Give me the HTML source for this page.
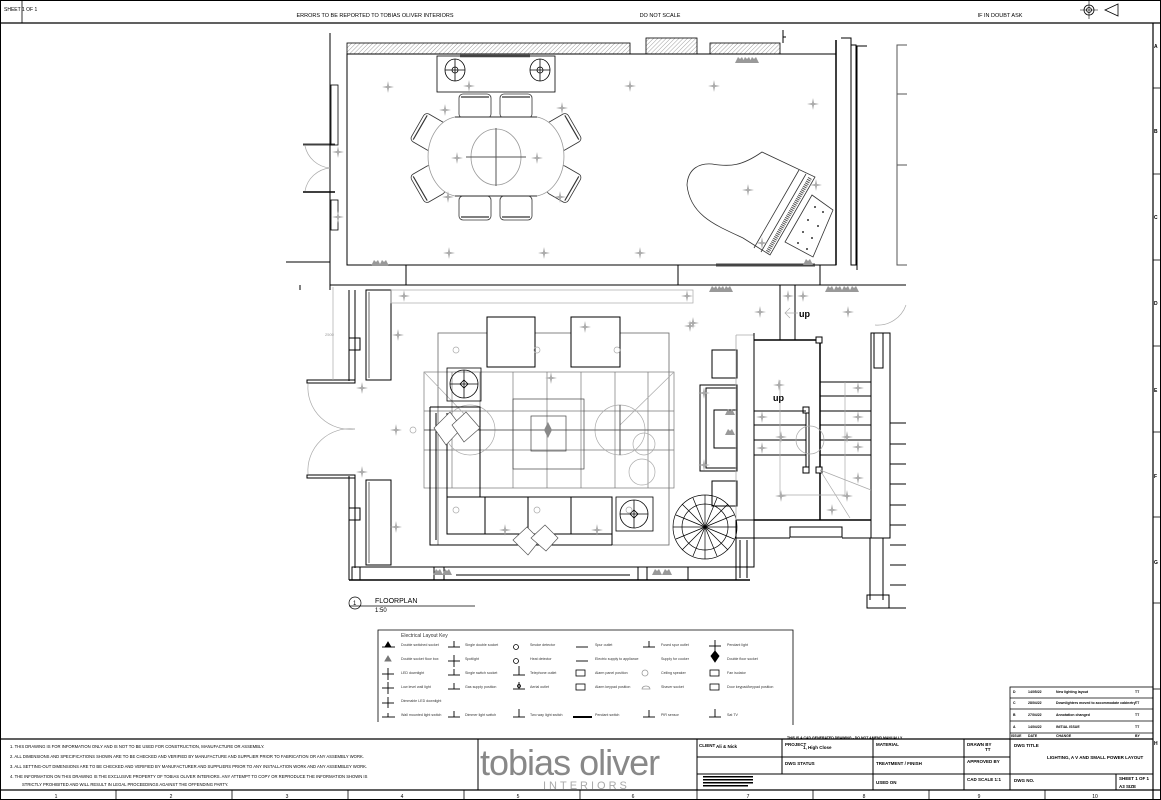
<!DOCTYPE html>
<html><head><meta charset="utf-8"><style>
html,body{margin:0;padding:0;background:#fff;}
svg{display:block;font-family:"Liberation Sans",sans-serif;}
</style></head><body>
<svg width="1161" height="800" viewBox="0 0 1161 800" xmlns="http://www.w3.org/2000/svg">
<defs>
<pattern id="h" width="3" height="3" patternUnits="userSpaceOnUse" patternTransform="rotate(45)"><line x1="0" y1="0" x2="0" y2="3" stroke="#777" stroke-width="0.7"/></pattern>
<g id="st"><path d="M0,-6 L1,-1 L6,0 L1,1 L0,6 L-1,1 L-6,0 L-1,-1Z" fill="#aaa"/></g>
<g id="sk"><path d="M-5,3 L-2,-3 L0,-1 L2,-3 L5,3Z" fill="#999"/></g>
<g id="ch"><rect x="-16" y="-12" width="32" height="24" rx="4" fill="#fff" stroke="#333" stroke-width="0.8"/><line x1="-14" y1="-9" x2="14" y2="-9" stroke="#333" stroke-width="1.2"/></g>
</defs>
<rect x="0.5" y="0.5" width="1160" height="799" fill="#fff" stroke="#000"/>
<!-- top band -->
<line x1="0" y1="23" x2="1161" y2="23" stroke="#000" stroke-width="1.2"/>
<line x1="22" y1="0" x2="22" y2="23" stroke="#000" stroke-width="0.8"/>
<text x="4" y="11" font-size="5">SHEET 1 OF 1</text>
<text x="375" y="17" font-size="5.5" text-anchor="middle">ERRORS TO BE REPORTED TO TOBIAS OLIVER INTERIORS</text>
<text x="660" y="17" font-size="5.5" text-anchor="middle">DO NOT SCALE</text>
<text x="1000" y="17" font-size="5.5" text-anchor="middle">IF IN DOUBT ASK</text>
<circle cx="1089" cy="10" r="5" fill="none" stroke="#000" stroke-width="0.8"/><circle cx="1089" cy="10" r="2.5" fill="none" stroke="#000" stroke-width="0.8"/>
<line x1="1080" y1="10" x2="1098" y2="10" stroke="#000" stroke-width="0.6"/><line x1="1089" y1="1" x2="1089" y2="19" stroke="#000" stroke-width="0.6"/>
<path d="M1105,10 L1118,4 L1118,16Z M1118,6 L1118,14" fill="none" stroke="#000" stroke-width="0.8"/>
<!-- right border -->
<line x1="1153" y1="23" x2="1153" y2="800" stroke="#000" stroke-width="1.2"/>
<g stroke="#000" stroke-width="0.8"><line x1="1153" y1="88" x2="1161" y2="88"/><line x1="1153" y1="174" x2="1161" y2="174"/><line x1="1153" y1="260" x2="1161" y2="260"/><line x1="1153" y1="346" x2="1161" y2="346"/><line x1="1153" y1="432" x2="1161" y2="432"/><line x1="1153" y1="517" x2="1161" y2="517"/><line x1="1153" y1="603" x2="1161" y2="603"/><line x1="1153" y1="689" x2="1161" y2="689"/></g>
<g font-size="5" font-weight="bold"><text x="1154" y="48">A</text><text x="1154" y="133">B</text><text x="1154" y="219">C</text><text x="1154" y="305">D</text><text x="1154" y="392">E</text><text x="1154" y="478">F</text><text x="1154" y="564">G</text><text x="1154" y="745">H</text></g>

<!-- ===== DINING ROOM ===== -->
<g fill="none" stroke="#000" stroke-width="1">
<line x1="330" y1="33" x2="330" y2="290"/>
<rect x="347" y="54" width="489" height="211"/>
<line x1="286" y1="262" x2="330" y2="262"/>
<line x1="330" y1="285" x2="906" y2="285"/>
<line x1="406" y1="265" x2="406" y2="285"/><line x1="678" y1="265" x2="678" y2="285"/><line x1="820" y1="265" x2="820" y2="285"/>
<line x1="836" y1="40" x2="836" y2="265" stroke-width="1.5"/>
<line x1="783" y1="30" x2="783" y2="43"/><line x1="783" y1="37" x2="786" y2="37"/>
<polyline points="841,38 851,38 851,265"/>
<polyline points="855,45 851,45"/>
<rect x="851" y="45" width="5" height="220"/>
<polyline points="857,270 857,46 867,46"/>
</g>
<g fill="none" stroke="#555" stroke-width="1"><polyline points="907,45 897,45 897,265 907,265"/><line x1="897" y1="94" x2="907" y2="94"/><line x1="897" y1="165" x2="907" y2="165"/></g>
<rect x="347" y="43" width="283" height="11" fill="url(#h)" stroke="#000" stroke-width="0.8"/>
<rect x="646" y="38" width="51" height="16" fill="url(#h)" stroke="#000" stroke-width="0.8"/>
<rect x="710" y="43" width="70" height="11" fill="url(#h)" stroke="#000" stroke-width="0.8"/>
<!-- left windows / door -->
<g fill="none" stroke="#000" stroke-width="0.8">
<rect x="331" y="85" width="7" height="60"/><rect x="331" y="200" width="7" height="30"/>
<line x1="303" y1="145" x2="335" y2="145"/><line x1="303" y1="144" x2="335" y2="144"/>
<line x1="303" y1="192" x2="335" y2="192" stroke-width="1.5"/>
</g>
<g fill="none" stroke="#aaa" stroke-width="0.7"><path d="M305,146 A28,28 0 0 0 330,168"/><path d="M305,191 A28,28 0 0 1 330,168"/></g>
<!-- TV unit -->
<rect x="437" y="56" width="118" height="36" fill="none" stroke="#000" stroke-width="0.8"/>
<line x1="460" y1="56" x2="530" y2="56" stroke="#444" stroke-width="2.5"/>
<g fill="none" stroke="#000" stroke-width="0.8"><ellipse cx="455" cy="70" rx="10" ry="11"/><circle cx="455" cy="70" r="3"/><line x1="445" y1="70" x2="465" y2="70"/><line x1="455" y1="59" x2="455" y2="81"/>
<ellipse cx="540" cy="70" rx="10" ry="11"/><circle cx="540" cy="70" r="3"/><line x1="530" y1="70" x2="550" y2="70"/><line x1="540" y1="59" x2="540" y2="81"/></g>
<!-- chairs -->
<use href="#ch" transform="translate(475,106)"/><use href="#ch" transform="translate(516,106)"/>
<use href="#ch" transform="translate(475,208) rotate(180)"/><use href="#ch" transform="translate(516,208) rotate(180)"/>
<use href="#ch" transform="translate(428,132) rotate(-60)"/><use href="#ch" transform="translate(428,184) rotate(-120)"/>
<use href="#ch" transform="translate(564,132) rotate(60)"/><use href="#ch" transform="translate(564,184) rotate(120)"/>
<path d="M455,117 L537,117 A32,40 0 0 1 537,196 L455,196 A32,40 0 0 1 455,117Z" fill="#fff" stroke="#999" stroke-width="0.8"/>
<line x1="455" y1="117" x2="537" y2="117" stroke="#000" stroke-width="0.8"/><line x1="455" y1="196" x2="537" y2="196" stroke="#000" stroke-width="0.8"/>
<ellipse cx="496" cy="157" rx="25" ry="28" fill="none" stroke="#999" stroke-width="0.8"/>
<line x1="466" y1="157" x2="526" y2="157" stroke="#555"/><line x1="496" y1="128" x2="496" y2="186" stroke="#555"/>
<!-- piano -->
<path d="M762,152 L815,177 L770,255 L743,238 C715,225 690,215 687,185 C688,168 700,163 712,164 C730,167 742,166 762,152Z" fill="#fff" stroke="#333" stroke-width="0.8"/>
<path d="M799,170 L754,248 M806,174 L761,252" stroke="#333" stroke-width="0.8" fill="none"/>
<path d="M810,178 L767,253" stroke="#555" stroke-width="4" stroke-dasharray="1,1" fill="none"/>
<path d="M812,195 L833,210 L813,257 L785,242Z" fill="#fff" stroke="#333" stroke-width="0.8"/>
<g fill="#333"><circle cx="815" cy="207" r="1"/><circle cx="823" cy="212" r="1"/><circle cx="808" cy="220" r="1"/><circle cx="818" cy="226" r="1"/><circle cx="803" cy="232" r="1"/><circle cx="812" cy="238" r="1"/><circle cx="798" cy="243" r="1"/><circle cx="807" cy="249" r="1"/></g>
<line x1="716" y1="265" x2="815" y2="265" stroke="#444" stroke-width="3"/>
<!-- dining stars -->
<g><use href="#st" x="388" y="87"/><use href="#st" x="469" y="86"/><use href="#st" x="630" y="86"/><use href="#st" x="714" y="86"/><use href="#st" x="813" y="104"/><use href="#st" x="457" y="158"/><use href="#st" x="537" y="158"/><use href="#st" x="748" y="190"/><use href="#st" x="338" y="152"/><use href="#st" x="338" y="217"/><use href="#st" x="448" y="197"/><use href="#st" x="560" y="197"/><use href="#st" x="445" y="110"/><use href="#st" x="562" y="108"/><use href="#st" x="449" y="253"/><use href="#st" x="544" y="253"/><use href="#st" x="640" y="253"/><use href="#st" x="762" y="243"/><use href="#st" x="816" y="185"/></g>
<g><use href="#sk" x="376" y="263"/><use href="#sk" x="384" y="263"/><use href="#sk" x="740" y="60"/><use href="#sk" x="747" y="60"/><use href="#sk" x="754" y="60"/><use href="#sk" x="808" y="262"/><use href="#sk" x="714" y="289"/><use href="#sk" x="721" y="289"/><use href="#sk" x="728" y="289"/><use href="#sk" x="830" y="289"/><use href="#sk" x="838" y="289"/><use href="#sk" x="846" y="289"/><use href="#sk" x="854" y="289"/></g>

<!-- ===== LIVING ROOM ===== -->
<g fill="none" stroke="#000" stroke-width="1">
<line x1="300" y1="285" x2="300" y2="290"/>
<line x1="349" y1="290" x2="349" y2="381"/><line x1="355" y1="290" x2="355" y2="381"/>
<line x1="349" y1="476" x2="349" y2="580"/><line x1="355" y1="476" x2="355" y2="568"/>
<rect x="366" y="290" width="25" height="90"/><line x1="369" y1="292" x2="369" y2="378" stroke="#666"/>
<rect x="366" y="480" width="25" height="85"/><line x1="369" y1="482" x2="369" y2="563" stroke="#666"/>
<rect x="349" y="338" width="11" height="12"/><rect x="349" y="508" width="11" height="12"/>
<rect x="307" y="380" width="48" height="3"/><rect x="307" y="475" width="48" height="3"/>
<line x1="349" y1="580" x2="750" y2="580" stroke-width="1.5"/>
<line x1="355" y1="567" x2="736" y2="567"/>
<rect x="352" y="567" width="8" height="13"/>
<rect x="434" y="567" width="10" height="13"/><rect x="638" y="567" width="9" height="13"/><rect x="688" y="567" width="48" height="13"/>
<line x1="456" y1="575" x2="630" y2="575"/>
<rect x="736" y="520" width="18" height="47"/>
<line x1="740" y1="540" x2="740" y2="578"/><line x1="747" y1="540" x2="747" y2="578"/>
</g>
<g fill="none" stroke="#aaa" stroke-width="0.7"><path d="M308,384 A42,42 0 0 0 355,429"/><path d="M308,474 A42,42 0 0 1 355,429"/><line x1="333" y1="287" x2="333" y2="380"/></g>
<text x="325" y="336" font-size="4" fill="#999">2500</text>
<rect x="391" y="290" width="302" height="13" fill="none" stroke="#aaa" stroke-width="0.7"/>
<!-- furniture frame -->
<rect x="438" y="333" width="231" height="212" fill="none" stroke="#666" stroke-width="0.8"/>
<rect x="487" y="317" width="48" height="50" fill="#fff" stroke="#000" stroke-width="1"/>
<rect x="571" y="317" width="49" height="50" fill="#fff" stroke="#000" stroke-width="1"/>
<!-- rug grid -->
<g fill="none" stroke="#777" stroke-width="0.7">
<rect x="424" y="372" width="250" height="116"/>
<line x1="424" y1="411" x2="674" y2="411"/><line x1="424" y1="430" x2="674" y2="430"/><line x1="424" y1="450" x2="674" y2="450"/>
<line x1="452" y1="372" x2="452" y2="488"/><line x1="480" y1="372" x2="480" y2="488"/><line x1="513" y1="372" x2="513" y2="488"/><line x1="547" y1="372" x2="547" y2="488"/><line x1="581" y1="372" x2="581" y2="488"/><line x1="615" y1="372" x2="615" y2="488"/><line x1="648" y1="372" x2="648" y2="488"/>
<rect x="513" y="399" width="71" height="70" stroke="#444"/><rect x="531" y="416" width="35" height="35" stroke="#444"/>
<circle cx="470" cy="430" r="25" stroke="#aaa"/><circle cx="620" cy="430" r="25" stroke="#aaa"/><circle cx="644" cy="444" r="11" stroke="#aaa"/><circle cx="642" cy="472" r="13" stroke="#aaa"/>
<line x1="424" y1="372" x2="470" y2="420" stroke="#aaa"/><line x1="674" y1="372" x2="620" y2="425" stroke="#aaa"/>
</g>
<line x1="424" y1="430" x2="674" y2="430" stroke="#555" stroke-width="0.8"/><line x1="620" y1="405" x2="620" y2="455" stroke="#555"/>
<path d="M548,430 m0,-8 l4,8 l-4,8 l-4,-8z" fill="#888"/>
<!-- side tables -->
<g fill="none" stroke="#000" stroke-width="0.8"><rect x="447" y="368" width="34" height="33"/><circle cx="464" cy="384" r="14"/><line x1="450" y1="384" x2="478" y2="384"/><line x1="464" y1="370" x2="464" y2="398"/><path d="M464,380 l4,4 l-4,4 l-4,-4z"/>
<rect x="616" y="497" width="37" height="34"/><circle cx="634" cy="514" r="14"/><line x1="620" y1="514" x2="648" y2="514"/><line x1="634" y1="500" x2="634" y2="528"/><path d="M634,510 l4,4 l-4,4 l-4,-4z"/></g>
<!-- sofa -->
<g fill="none" stroke="#000" stroke-width="1">
<polyline points="430,407 480,407 480,497"/>
<polyline points="430,407 430,545 571,545"/>
<polyline points="436,413 436,540"/>
<rect x="447" y="497" width="165" height="37"/>
<line x1="485" y1="497" x2="485" y2="534"/><line x1="528" y1="497" x2="528" y2="534"/><line x1="571" y1="497" x2="571" y2="534"/>
<polyline points="447,413 447,534"/>
<line x1="447" y1="545" x2="612" y2="545"/><line x1="612" y1="534" x2="612" y2="545"/>
</g>
<g fill="#fff" stroke="#555" stroke-width="0.7"><path d="M434,428 L450,412 L462,428 L446,445Z"/><path d="M452,425 L466,412 L480,428 L464,442Z"/><path d="M513,540 L527,527 L540,540 L528,555Z"/><path d="M531,538 L545,525 L558,538 L546,551Z"/></g>
<!-- round rug -->
<g fill="none" stroke="#000" stroke-width="0.7"><circle cx="705" cy="527" r="32"/><circle cx="705" cy="527" r="23"/><line x1="673" y1="527" x2="737" y2="527"/><line x1="705" y1="495" x2="705" y2="559"/><line x1="682" y1="504" x2="728" y2="550"/><line x1="728" y1="504" x2="682" y2="550"/><line x1="676" y1="515" x2="734" y2="539"/><line x1="676" y1="539" x2="734" y2="515"/><line x1="693" y1="498" x2="717" y2="556"/><line x1="717" y1="498" x2="693" y2="556"/></g>
<!-- TV cabinet left of stairs -->
<g fill="none" stroke="#000" stroke-width="1">
<rect x="712" y="350" width="25" height="28"/><rect x="712" y="481" width="25" height="25"/>
<rect x="700" y="385" width="37" height="86"/><rect x="706" y="388" width="31" height="80"/>
<rect x="714" y="410" width="23" height="38"/>
</g>
<line x1="736" y1="335" x2="736" y2="520" stroke="#aaa" stroke-width="0.8"/><line x1="736" y1="335" x2="754" y2="335" stroke="#aaa" stroke-width="0.8"/>
<!-- stair core -->
<g fill="none" stroke="#000" stroke-width="1">
<line x1="754" y1="333" x2="754" y2="520"/>
<line x1="780" y1="285" x2="780" y2="340"/><line x1="795" y1="285" x2="795" y2="340"/>
<line x1="754" y1="340" x2="820" y2="340" stroke-width="1.5"/>
<line x1="820" y1="340" x2="820" y2="520" stroke-width="1.5"/>
<rect x="816" y="337" width="6" height="6" fill="#fff"/><rect x="803" y="407" width="6" height="6" fill="#fff"/><rect x="803" y="467" width="6" height="6" fill="#fff"/><rect x="816" y="467" width="6" height="6" fill="#fff"/>
<line x1="806" y1="413" x2="806" y2="467"/><line x1="809" y1="413" x2="809" y2="467"/>
<line x1="754" y1="411" x2="806" y2="411"/><line x1="754" y1="425" x2="806" y2="425"/><line x1="754" y1="440" x2="806" y2="440"/><line x1="754" y1="455" x2="806" y2="455"/>
<line x1="820" y1="382" x2="871" y2="382"/><line x1="820" y1="396" x2="871" y2="396"/><line x1="820" y1="411" x2="871" y2="411"/><line x1="820" y1="425" x2="871" y2="425"/><line x1="820" y1="440" x2="871" y2="440"/><line x1="820" y1="455" x2="871" y2="455"/>
<line x1="754" y1="520" x2="871" y2="520" stroke-width="1.5"/>
<rect x="871" y="333" width="19" height="205"/>
<rect x="874" y="333" width="9" height="35"/>
<line x1="736" y1="538" x2="790" y2="538"/><line x1="842" y1="538" x2="890" y2="538"/>
<rect x="790" y="527" width="52" height="10"/>
<line x1="870" y1="538" x2="870" y2="600"/><line x1="883" y1="538" x2="883" y2="600"/>
<rect x="867" y="595" width="22" height="13"/>
<line x1="890" y1="423" x2="906" y2="423"/><line x1="890" y1="444" x2="906" y2="444"/><line x1="890" y1="464" x2="906" y2="464"/><line x1="890" y1="484" x2="906" y2="484"/><line x1="890" y1="505" x2="906" y2="505"/><line x1="890" y1="525" x2="906" y2="525"/><line x1="890" y1="545" x2="906" y2="545"/><line x1="890" y1="565" x2="906" y2="565"/><line x1="890" y1="585" x2="906" y2="585"/>
<line x1="883" y1="608" x2="906" y2="608"/>
</g>
<g fill="none" stroke="#aaa" stroke-width="0.7"><line x1="780" y1="380" x2="780" y2="495"/><line x1="845" y1="382" x2="845" y2="495"/><line x1="780" y1="495" x2="845" y2="495"/><circle cx="810" cy="440" r="14"/><line x1="820" y1="470" x2="850" y2="518"/><line x1="820" y1="470" x2="871" y2="490"/><path d="M875,325 A30,30 0 0 0 906,305"/><line x1="785" y1="313" x2="798" y2="313"/><path d="M790,308 l-5,5 l5,5"/></g>
<text x="799" y="317" font-size="9" font-weight="bold">up</text>
<text x="773" y="401" font-size="9" font-weight="bold">up</text>
<!-- living stars -->
<g><use href="#st" x="404" y="296"/><use href="#st" x="687" y="296"/><use href="#st" x="398" y="335"/><use href="#st" x="585" y="327"/><use href="#st" x="690" y="326"/><use href="#st" x="551" y="378"/><use href="#st" x="396" y="430"/><use href="#st" x="362" y="388"/><use href="#st" x="362" y="472"/><use href="#st" x="396" y="527"/><use href="#st" x="505" y="530"/><use href="#st" x="597" y="530"/><use href="#st" x="760" y="312"/><use href="#st" x="848" y="312"/><use href="#st" x="693" y="323"/><use href="#st" x="779" y="385"/><use href="#st" x="781" y="437"/><use href="#st" x="847" y="437"/><use href="#st" x="781" y="496"/><use href="#st" x="847" y="496"/><use href="#st" x="704" y="393"/><use href="#st" x="704" y="465"/><use href="#st" x="762" y="417"/><use href="#st" x="762" y="448"/><use href="#st" x="858" y="388"/><use href="#st" x="858" y="417"/><use href="#st" x="858" y="447"/><use href="#st" x="858" y="478"/><use href="#st" x="832" y="510"/><use href="#st" x="788" y="296"/><use href="#st" x="803" y="296"/></g>
<g><use href="#sk" x="438" y="572"/><use href="#sk" x="447" y="572"/><use href="#sk" x="657" y="572"/><use href="#sk" x="667" y="572"/><use href="#sk" x="730" y="412"/><use href="#sk" x="730" y="432"/></g>
<g fill="none" stroke="#aaa" stroke-width="0.7"><circle cx="413" cy="430" r="3"/><circle cx="456" cy="350" r="3"/><circle cx="537" cy="350" r="3"/><circle cx="617" cy="350" r="3"/><circle cx="456" cy="510" r="3"/><circle cx="537" cy="510" r="3"/><circle cx="629" cy="510" r="3"/></g>
<!-- floorplan label -->
<circle cx="355" cy="603" r="6" fill="none" stroke="#000" stroke-width="0.7"/><text x="353" y="605" font-size="6">1</text>
<line x1="349" y1="606" x2="475" y2="606" stroke="#000" stroke-width="0.7"/>
<text x="375" y="603" font-size="7">FLOORPLAN</text><text x="375" y="612" font-size="6">1:50</text>

<!-- legend -->
<polyline points="378,722 378,630 793,630 793,725" fill="none" stroke="#000" stroke-width="0.8"/>
<g font-size="3.6" fill="#333">
<text x="401" y="637" font-size="5">Electrical Layout Key</text>
<text x="401" y="646">Double switched socket</text><text x="465" y="646">Single double socket</text><text x="530" y="646">Smoke detector</text><text x="595" y="646">Spur outlet</text><text x="661" y="646">Fused spur outlet</text><text x="727" y="646">Pendant light</text>
<text x="401" y="660">Double socket floor box</text><text x="465" y="660">Spotlight</text><text x="530" y="660">Heat detector</text><text x="595" y="660">Electric supply to appliance</text><text x="661" y="660">Supply for cooker</text><text x="727" y="660">Double floor socket</text>
<text x="401" y="674">LED downlight</text><text x="465" y="674">Single switch socket</text><text x="530" y="674">Telephone outlet</text><text x="595" y="674">Alarm panel position</text><text x="661" y="674">Ceiling speaker</text><text x="727" y="674">Fan isolator</text>
<text x="401" y="688">Low level wall light</text><text x="465" y="688">Gas supply position</text><text x="530" y="688">Aerial outlet</text><text x="595" y="688">Alarm keypad position</text><text x="661" y="688">Shaver socket</text><text x="727" y="688">Door keypad/keypad position</text>
<text x="401" y="702">Dimmable LED downlight</text>
<text x="401" y="716">Wall mounted light switch</text><text x="465" y="716">Dimmer light switch</text><text x="530" y="716">Two way light switch</text><text x="595" y="716">Pendant switch</text><text x="661" y="716">PIR sensor</text><text x="727" y="716">Sat TV</text>
</g>
<g stroke="#000" stroke-width="0.9" fill="#000">
<path d="M385,647 l3,-5 l3,5z"/><line x1="382" y1="647" x2="395" y2="647"/>
<path d="M385,661 l3,-5 l3,5z" fill="#777" stroke="#777"/>
<line x1="388" y1="668" x2="388" y2="680"/><line x1="382" y1="674" x2="394" y2="674"/>
<line x1="388" y1="682" x2="388" y2="694"/><line x1="382" y1="688" x2="394" y2="688"/>
<line x1="388" y1="697" x2="388" y2="708"/><line x1="382" y1="703" x2="394" y2="703"/>
<line x1="382" y1="717" x2="395" y2="717"/><line x1="388" y1="713" x2="388" y2="717"/>
<line x1="448" y1="647" x2="460" y2="647"/><line x1="454" y1="641" x2="454" y2="647"/>
<line x1="448" y1="661" x2="460" y2="661"/><line x1="454" y1="655" x2="454" y2="667"/>
<line x1="448" y1="675" x2="460" y2="675"/><line x1="454" y1="669" x2="454" y2="675"/>
<line x1="448" y1="689" x2="460" y2="689"/><line x1="454" y1="683" x2="454" y2="689"/>
<line x1="448" y1="717" x2="460" y2="717"/><line x1="454" y1="711" x2="454" y2="717"/>
<line x1="513" y1="675" x2="525" y2="675"/><line x1="519" y1="666" x2="519" y2="675"/>
<line x1="513" y1="689" x2="525" y2="689"/><line x1="519" y1="682" x2="519" y2="689"/>
<line x1="513" y1="717" x2="525" y2="717"/><line x1="519" y1="709" x2="519" y2="717"/>
<line x1="576" y1="647" x2="588" y2="647"/><line x1="576" y1="661" x2="588" y2="661"/>
<line x1="573" y1="717" x2="592" y2="717" stroke-width="2"/>
<line x1="643" y1="647" x2="655" y2="647"/><line x1="649" y1="641" x2="649" y2="647"/>
<line x1="643" y1="717" x2="655" y2="717"/><line x1="649" y1="710" x2="649" y2="717"/>
<line x1="709" y1="717" x2="721" y2="717"/><line x1="715" y1="709" x2="715" y2="717"/>
<line x1="715" y1="640" x2="715" y2="652"/><line x1="709" y1="646" x2="721" y2="646"/>
<path d="M715,651 l4,5 l-4,6 l-4,-6z"/>
</g>
<g fill="none" stroke="#000" stroke-width="0.8"><circle cx="516" cy="647" r="2.5"/><circle cx="516" cy="661" r="2.5"/><rect x="576" y="670" width="9" height="6"/><rect x="576" y="684" width="9" height="6"/><rect x="710" y="670" width="9" height="6"/><rect x="710" y="684" width="9" height="6"/><circle cx="645" cy="673" r="3" stroke="#999"/><path d="M642,689 a4,3 0 0 1 8,0z" stroke="#999"/><circle cx="519" cy="686" r="1.5"/></g>

<!-- revision table -->
<g fill="none" stroke="#000" stroke-width="0.8">
<rect x="1010" y="687" width="143" height="52"/>
<line x1="1010" y1="698" x2="1153" y2="698"/><line x1="1010" y1="709" x2="1153" y2="709"/><line x1="1010" y1="721" x2="1153" y2="721"/><line x1="1010" y1="733" x2="1153" y2="733"/>
</g>
<g font-size="3.5" font-weight="bold">
<text x="1013" y="693">D</text><text x="1028" y="693">14/05/22</text><text x="1056" y="693">New lighting layout</text><text x="1135" y="693">TT</text>
<text x="1013" y="704">C</text><text x="1028" y="704">28/04/22</text><text x="1056" y="704">Downlighters moved to accommodate cabinetry</text><text x="1135" y="704">TT</text>
<text x="1013" y="716">B</text><text x="1028" y="716">27/04/22</text><text x="1056" y="716">Annotation changed</text><text x="1135" y="716">TT</text>
<text x="1013" y="728">A</text><text x="1028" y="728">14/04/22</text><text x="1056" y="728">INITIAL ISSUE</text><text x="1135" y="728">TT</text>
<text x="1011" y="737">ISSUE</text><text x="1028" y="737">DATE</text><text x="1056" y="737">CHANGE</text><text x="1135" y="737">BY</text>
</g>
<text x="787" y="739" font-size="3.5" font-weight="bold">THIS IS A CAD GENERATED DRAWING - DO NOT AMEND MANUALLY</text>

<!-- title block -->
<g fill="none" stroke="#000" stroke-width="1">
<line x1="0" y1="739" x2="1153" y2="739" stroke-width="1.2"/>
<line x1="0" y1="790" x2="1161" y2="790" stroke-width="1.2"/>
<line x1="478" y1="739" x2="478" y2="790"/><line x1="697" y1="739" x2="697" y2="790"/>
<line x1="782" y1="739" x2="782" y2="774"/><line x1="873" y1="739" x2="873" y2="790"/><line x1="964" y1="739" x2="964" y2="790"/><line x1="1010" y1="739" x2="1010" y2="790"/>
<line x1="697" y1="757" x2="1010" y2="757"/><line x1="697" y1="774" x2="1010" y2="774"/><line x1="1010" y1="774" x2="1153" y2="774"/>
<line x1="1116" y1="774" x2="1116" y2="790"/>
</g>
<g font-size="4.2" fill="#000">
<text x="10" y="748">1.  THIS DRAWING IS FOR INFORMATION ONLY AND IS NOT TO BE USED FOR CONSTRUCTION, MANUFACTURE OR ASSEMBLY.</text>
<text x="10" y="758">2.  ALL DIMENSIONS AND SPECIFICATIONS SHOWN ARE TO BE CHECKED AND VERIFIED BY MANUFACTURE AND SUPPLIER PRIOR TO FABRICATION OR ANY ASSEMBLY WORK.</text>
<text x="10" y="768">3.  ALL SETTING-OUT DIMENSIONS ARE TO BE CHECKED AND VERIFIED BY MANUFACTURER AND SUPPLIERS PRIOR TO ANY INSTALLATION WORK AND ANY ASSEMBLEY WORK.</text>
<text x="10" y="778">4.  THE INFORMATION ON THIS DRAWING IS THE EXCLUSIVE PROPERTY OF TOBIAS OLIVER INTERIORS.  ANY ATTEMPT TO COPY OR REPRODUCE THE INFORMATION SHOWN IS</text>
<text x="22" y="786">STRICTLY  PROHIBITED AND WILL RESULT IN LEGAL PROCEEDINGS AGAINST THE OFFENDING PARTY.</text>
</g>
<text x="480" y="775" font-size="36" fill="#888" font-family="Liberation Sans,sans-serif" letter-spacing="-1">tobias oliver</text>
<text x="543" y="789" font-size="11" fill="#aaa" letter-spacing="3">INTERIORS</text>
<g font-size="4.5" font-weight="bold">
<text x="699" y="747">CLIENT</text><text x="716" y="748">Ali &amp; Nick</text>
<text x="785" y="746">PROJECT</text><text x="803" y="749">1, High Close</text>
<text x="876" y="746">MATERIAL</text>
<text x="967" y="746">DRAWN BY</text><text x="985" y="751">TT</text>
<text x="1014" y="747">DWG TITLE</text>
<text x="1047" y="759">LIGHTING,  A V AND SMALL POWER LAYOUT</text>
<text x="785" y="765">DWG STATUS</text><text x="876" y="765">TREATMENT / FINISH</text><text x="967" y="763">APPROVED BY</text>
<text x="876" y="784">USED ON</text><text x="967" y="781">CAD SCALE  1:1</text><text x="1014" y="782">DWG NO.</text>
<text x="1119" y="780">SHEET 1 OF 1</text><text x="1119" y="788">A3 SIZE</text>
</g>
<g fill="#000"><rect x="703" y="776" width="50" height="1.5"/><rect x="703" y="779" width="50" height="1.5"/><rect x="703" y="782" width="50" height="1.5"/><rect x="703" y="785" width="45" height="1.5"/></g>
<!-- column numbers -->
<g stroke="#000" stroke-width="0.8"><line x1="116" y1="790" x2="116" y2="800"/><line x1="232" y1="790" x2="232" y2="800"/><line x1="348" y1="790" x2="348" y2="800"/><line x1="464" y1="790" x2="464" y2="800"/><line x1="580" y1="790" x2="580" y2="800"/><line x1="697" y1="790" x2="697" y2="800"/><line x1="813" y1="790" x2="813" y2="800"/><line x1="929" y1="790" x2="929" y2="800"/><line x1="1045" y1="790" x2="1045" y2="800"/></g>
<g font-size="5" text-anchor="middle"><text x="56" y="798">1</text><text x="171" y="798">2</text><text x="287" y="798">3</text><text x="402" y="798">4</text><text x="518" y="798">5</text><text x="633" y="798">6</text><text x="748" y="798">7</text><text x="864" y="798">8</text><text x="979" y="798">9</text><text x="1095" y="798">10</text></g>
</svg>
</body></html>
